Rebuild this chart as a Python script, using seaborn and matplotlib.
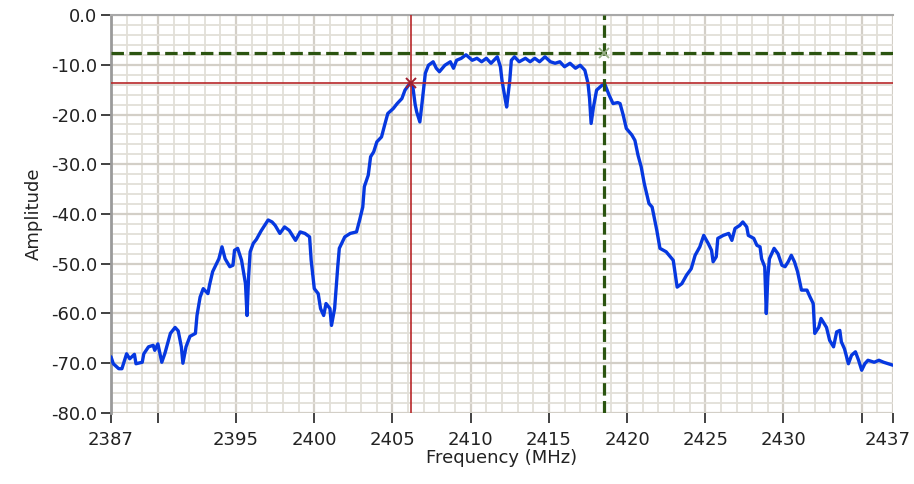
import numpy as np
import pandas as pd
import matplotlib
matplotlib.use('Agg')
import matplotlib.pyplot as plt
import matplotlib.transforms as mtransforms
import seaborn as sns

# Trace (MHz, amplitude)
freq = [2387.0, 2387.15, 2387.5, 2387.7, 2388.0, 2388.2, 2388.5, 2388.6, 2389.0, 2389.1,
        2389.4, 2389.7, 2389.8, 2390.0, 2390.25, 2390.45, 2390.8, 2391.1, 2391.3, 2391.5,
        2391.6, 2391.8, 2392.05, 2392.4, 2392.5, 2392.7, 2392.9, 2393.2, 2393.3, 2393.5,
        2393.9, 2394.1, 2394.3, 2394.6, 2394.8, 2394.9, 2395.1, 2395.35, 2395.6, 2395.7,
        2395.8, 2395.9, 2396.1, 2396.3, 2396.6, 2397.05, 2397.3, 2397.5, 2397.8, 2398.1,
        2398.4, 2398.8, 2399.1, 2399.4, 2399.7, 2399.8, 2400.0, 2400.25, 2400.4, 2400.6,
        2400.75, 2401.0, 2401.1, 2401.3, 2401.5, 2401.6, 2401.95, 2402.3, 2402.7, 2402.9,
        2403.1, 2403.2, 2403.45, 2403.6, 2403.8, 2404.0, 2404.3, 2404.5, 2404.7, 2405.05,
        2405.3, 2405.6, 2405.8, 2406.1, 2406.3, 2406.45, 2406.55, 2406.75, 2406.9, 2407.1,
        2407.3, 2407.6, 2407.8, 2408.0, 2408.35, 2408.7, 2408.9, 2409.1, 2409.4, 2409.7,
        2410.1, 2410.4, 2410.7, 2411.0, 2411.3, 2411.7, 2411.9, 2412.0, 2412.2, 2412.3,
        2412.4, 2412.5, 2412.6, 2412.8, 2413.1, 2413.5, 2413.8, 2414.1, 2414.4, 2414.75,
        2415.1, 2415.4, 2415.7, 2416.0, 2416.35, 2416.7, 2417.0, 2417.3, 2417.5, 2417.6,
        2417.7, 2417.85, 2418.05, 2418.3, 2418.55, 2418.85, 2419.1, 2419.4, 2419.55, 2419.75,
        2419.95, 2420.3, 2420.5, 2420.7, 2420.9, 2421.1, 2421.4, 2421.6, 2421.9, 2422.1,
        2422.5, 2422.95, 2423.2, 2423.5, 2423.8, 2424.1, 2424.35, 2424.65, 2424.9, 2425.2,
        2425.4, 2425.5, 2425.7, 2425.8, 2426.15, 2426.5, 2426.7, 2426.9, 2427.2, 2427.4,
        2427.65, 2427.75, 2428.1, 2428.3, 2428.5, 2428.6, 2428.8, 2428.9, 2429.0, 2429.1,
        2429.4, 2429.65, 2429.9, 2430.1, 2430.3, 2430.5, 2430.7, 2430.9, 2431.15, 2431.5,
        2431.7, 2431.9, 2432.0, 2432.25, 2432.4, 2432.75, 2432.95, 2433.2, 2433.4, 2433.6,
        2433.7, 2433.9, 2434.15, 2434.35, 2434.6, 2434.8, 2435.0, 2435.2, 2435.4, 2435.8,
        2436.1, 2436.4, 2436.7, 2437.0]
amp = [-68.7, -70.1, -71.1, -71.1, -68.1, -69.1, -68.2, -70.1, -69.8, -68.1,
       -66.7, -66.4, -67.4, -66.1, -69.8, -68.0, -64.0, -62.8, -63.5, -66.7,
       -70.0, -66.7, -64.6, -64.0, -60.4, -56.7, -55.0, -56.0, -54.3, -51.6,
       -49.0, -46.6, -49.0, -50.6, -50.3, -47.3, -46.9, -49.3, -54.0, -60.4,
       -52.6, -47.6, -45.9, -45.1, -43.4, -41.2, -41.6, -42.3, -43.9, -42.6,
       -43.3, -45.3, -43.6, -43.9, -44.6, -49.3, -55.0, -56.0, -59.0, -60.4,
       -58.0, -59.0, -62.4, -59.0, -50.6, -46.9, -44.6, -43.9, -43.6, -41.2,
       -38.6, -34.5, -32.2, -28.5, -27.5, -25.5, -24.5, -22.1, -19.8, -18.8,
       -17.8, -16.8, -15.1, -13.8, -14.4, -18.0, -19.5, -21.5, -17.4, -11.7,
       -10.1, -9.4, -10.7, -11.4, -10.1, -9.4, -10.7, -9.1, -8.7, -8.0,
       -9.1, -8.7, -9.4, -8.7, -9.7, -8.4, -10.4, -13.1, -16.8, -18.5,
       -15.8, -13.1, -9.1, -8.4, -9.4, -8.7, -9.4, -8.7, -9.4, -8.4,
       -9.4, -9.7, -9.4, -10.4, -9.7, -10.7, -10.1, -11.1, -13.7, -16.8,
       -21.8, -18.5, -15.1, -14.4, -13.7, -16.1, -17.8, -17.6, -17.8, -20.1,
       -22.8, -24.1, -25.2, -28.2, -30.5, -33.9, -37.9, -38.6, -43.3, -46.9,
       -47.6, -49.3, -54.7, -54.0, -52.3, -51.0, -48.3, -46.6, -44.3, -46.0,
       -47.3, -49.6, -48.6, -44.9, -44.3, -43.9, -45.3, -42.9, -42.3, -41.6,
       -42.6, -44.3, -44.9, -46.3, -46.6, -49.0, -50.6, -60.0, -52.6, -49.0,
       -46.9, -48.0, -50.3, -50.6, -49.6, -48.3, -49.6, -51.6, -55.3, -55.3,
       -56.7, -58.0, -64.0, -62.8, -61.0, -62.8, -65.4, -66.7, -63.7, -63.4,
       -65.7, -67.1, -70.1, -68.4, -67.7, -69.4, -71.4, -70.1, -69.4, -69.8,
       -69.4, -69.8, -70.1, -70.4]

# Cursores
cursor1 = (2406.2, -13.7)
cursor2 = (2418.5, -7.6)

x_ticks = [2387, 2390, 2395, 2400, 2405, 2410, 2415, 2420, 2425, 2430, 2435, 2437]
x_labels = ['2387', '', '2395', '2400', '2405', '2410', '2415', '2420', '2425', '2430', '', '2437']
y_ticks = [-80, -70, -60, -50, -40, -30, -20, -10, 0]

df = pd.DataFrame({'Frequency': freq, 'Amplitude': amp})

sns.set_style('white')
plt.rcParams['font.family'] = ['DejaVu Sans']

fig = plt.figure(figsize=(9.14, 4.84), dpi=100)
ax = fig.add_axes([0.1214, 0.1467, 0.8556, 0.8223])

# Grade
ax.set_xticks(np.arange(2387, 2438, 1), minor=True)
ax.set_yticks(np.arange(-80, 1, 2), minor=True)
ax.grid(which='minor', color='#e2dfd8', linewidth=1.3, zorder=0)
ax.grid(which='major', color='#d3cfc7', linewidth=1.6, zorder=0)
ax.set_axisbelow(True)

sns.lineplot(data=df, x='Frequency', y='Amplitude', estimator=None, sort=False,
             color='#0638e0', linewidth=2.4, ax=ax, zorder=3)

# Cursor 1 (vermelho)
ax.axvline(cursor1[0], color='#b8282a', linewidth=1.2, zorder=4)
ax.axhline(cursor1[1], color='#b8282a', linewidth=1.2, zorder=4)
ax.plot(*cursor1, marker='x', color='#a02030', markersize=7, mew=1.4, zorder=5)

# Cursor 2 (verde tracejado)
ax.axvline(cursor2[0], color='#2b5410', linewidth=2.3, dashes=(3.9, 1.7), zorder=4)
ax.axhline(cursor2[1], color='#2b5410', linewidth=2.3, dashes=(3.9, 1.7), zorder=4)
ax.plot(*cursor2, marker='x', color='#9ab08a', markersize=7, mew=1.3, zorder=5)

ax.set_xlim(2387, 2437)
ax.set_ylim(-80, 0)
ax.set_xticks(x_ticks)
ax.set_xticklabels(x_labels)
ax.set_yticks(y_ticks)
ax.set_yticklabels([f'{v:.1f}' for v in y_ticks])
ax.tick_params(axis='both', which='major', direction='out', length=7, width=1.3,
               color='#333333', labelsize=13, labelcolor='#222222',
               bottom=True, left=True)
ax.tick_params(axis='both', which='minor', length=0)
ax.tick_params(axis='x', pad=6)
ax.tick_params(axis='y', pad=3)

# último rótulo um pouco à esquerda para caber na figura
last = ax.get_xticklabels()[-1]
last.set_transform(last.get_transform() + mtransforms.ScaledTranslation(-5 / 100, 0, fig.dpi_scale_trans))

for side in ['right', 'bottom']:
    ax.spines[side].set_visible(False)
ax.spines['left'].set_color('#9a9a9a')
ax.spines['left'].set_linewidth(2)
ax.spines['top'].set_color('#a8a8a8')
ax.spines['top'].set_linewidth(1.5)

ax.set_xlabel('Frequency (MHz)', fontsize=13, color='#222222', labelpad=0)
ax.set_ylabel('Amplitude', fontsize=13, color='#222222', labelpad=6)

fig.savefig('out.png', dpi=100)
